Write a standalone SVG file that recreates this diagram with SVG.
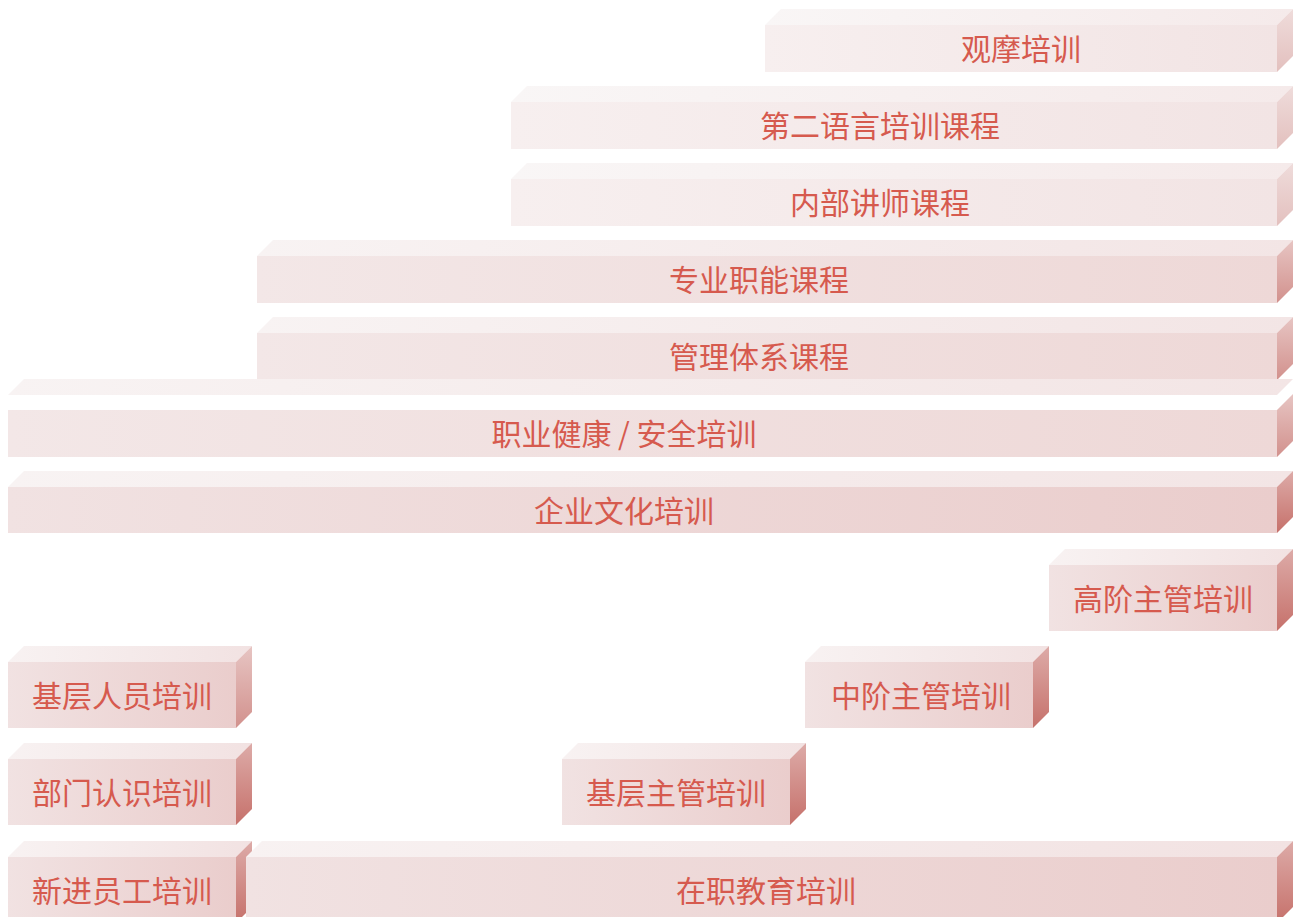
<svg xmlns="http://www.w3.org/2000/svg" width="1294" height="917" viewBox="0 0 1294 917">
<defs>
<linearGradient id="frA" x1="0" y1="0" x2="1" y2="0"><stop offset="0" stop-color="#f7efef"/><stop offset="1" stop-color="#f2e4e4"/></linearGradient>
<linearGradient id="topA" x1="0" y1="0" x2="1" y2="0"><stop offset="0" stop-color="#f9f6f6"/><stop offset="1" stop-color="#f5eaea"/></linearGradient>
<linearGradient id="sdA" x1="0" y1="0" x2="0" y2="1"><stop offset="0" stop-color="#efdcdb"/><stop offset="1" stop-color="#e3c0be"/></linearGradient>
<linearGradient id="frB" x1="0" y1="0" x2="1" y2="0"><stop offset="0" stop-color="#f3e7e7"/><stop offset="1" stop-color="#eed8d7"/></linearGradient>
<linearGradient id="topB" x1="0" y1="0" x2="1" y2="0"><stop offset="0" stop-color="#f8f3f3"/><stop offset="1" stop-color="#f3e5e5"/></linearGradient>
<linearGradient id="sdB" x1="0" y1="0" x2="0" y2="1"><stop offset="0" stop-color="#e7c5c3"/><stop offset="1" stop-color="#d2918d"/></linearGradient>
<linearGradient id="frC" x1="0" y1="0" x2="1" y2="0"><stop offset="0" stop-color="#f1e2e2"/><stop offset="1" stop-color="#eacdcc"/></linearGradient>
<linearGradient id="topC" x1="0" y1="0" x2="1" y2="0"><stop offset="0" stop-color="#f8f2f2"/><stop offset="1" stop-color="#f2e2e2"/></linearGradient>
<linearGradient id="sdC" x1="0" y1="0" x2="0" y2="1"><stop offset="0" stop-color="#ddaba8"/><stop offset="1" stop-color="#c6716b"/></linearGradient>
</defs>
<style>
.fA{fill:url(#frA)}.tA{fill:url(#topA)}.sA{fill:url(#sdA)}
.fB{fill:url(#frB)}.tB{fill:url(#topB)}.sB{fill:url(#sdB)}
.fC{fill:url(#frC)}.tC{fill:url(#topC)}.sC{fill:url(#sdC)}
text{font-family:"Noto Sans CJK SC","Noto Sans",sans-serif;font-size:30px;fill:#d65a4e;text-anchor:middle;dominant-baseline:central}
</style>
<g id="n1">
<polygon class="tA" points="765,25 781,9 1293,9 1277,25"/>
<rect class="fA" x="765" y="25" width="512" height="47"/>
<polygon class="sA" points="1277,25 1293,9 1293,56 1277,72"/>
<text x="1021" y="47">观摩培训</text>
</g>
<g id="n2">
<polygon class="tA" points="511,102 527,86 1293,86 1277,102"/>
<rect class="fA" x="511" y="102" width="766" height="47"/>
<polygon class="sA" points="1277,102 1293,86 1293,133 1277,149"/>
<text x="880" y="124">第二语言培训课程</text>
</g>
<g id="n3">
<polygon class="tA" points="511,179 527,163 1293,163 1277,179"/>
<rect class="fA" x="511" y="179" width="766" height="47"/>
<polygon class="sA" points="1277,179 1293,163 1293,210 1277,226"/>
<text x="880" y="201">内部讲师课程</text>
</g>
<g id="n4">
<polygon class="tB" points="257,256 273,240 1293,240 1277,256"/>
<rect class="fB" x="257" y="256" width="1020" height="47"/>
<polygon class="sB" points="1277,256 1293,240 1293,287 1277,303"/>
<text x="759" y="278">专业职能课程</text>
</g>
<g id="n5">
<polygon class="tB" points="257,333 273,317 1293,317 1277,333"/>
<rect class="fB" x="257" y="333" width="1020" height="47"/>
<polygon class="sB" points="1277,333 1293,317 1293,364 1277,380"/>
<text x="759" y="355">管理体系课程</text>
</g>
<g id="n6">
<polygon class="tB" points="8,395 24,379 1293,379 1277,395"/>
<rect class="fB" x="8" y="410" width="1269" height="47"/>
<polygon class="sB" points="1277,410 1293,394 1293,441 1277,457"/>
<text x="624" y="432">职业健康 / 安全培训</text>
</g>
<g id="n7">
<polygon class="tB" points="8,487 24,471 1293,471 1277,487"/>
<rect class="fC" x="8" y="487" width="1269" height="46"/>
<polygon class="sC" points="1277,487 1293,471 1293,517 1277,533"/>
<text x="624" y="509">企业文化培训</text>
</g>
<g id="n8">
<polygon class="tC" points="1049,565 1065,549 1293,549 1277,565"/>
<rect class="fC" x="1049" y="565" width="228" height="66"/>
<polygon class="sC" points="1277,565 1293,549 1293,615 1277,631"/>
<text x="1163" y="597">高阶主管培训</text>
</g>
<g id="n9">
<polygon class="tC" points="8,662 24,646 252,646 236,662"/>
<rect class="fC" x="8" y="662" width="228" height="66"/>
<polygon class="sB" points="236,662 252,646 252,712 236,728"/>
<text x="122" y="694">基层人员培训</text>
</g>
<g id="n10">
<polygon class="tC" points="805,662 821,646 1049,646 1033,662"/>
<rect class="fC" x="805" y="662" width="228" height="66"/>
<polygon class="sC" points="1033,662 1049,646 1049,712 1033,728"/>
<text x="921" y="694">中阶主管培训</text>
</g>
<g id="n11">
<polygon class="tC" points="8,759 24,743 252,743 236,759"/>
<rect class="fC" x="8" y="759" width="228" height="66"/>
<polygon class="sC" points="236,759 252,743 252,809 236,825"/>
<text x="122" y="791">部门认识培训</text>
</g>
<g id="n12">
<polygon class="tC" points="562,759 578,743 806,743 790,759"/>
<rect class="fC" x="562" y="759" width="228" height="66"/>
<polygon class="sC" points="790,759 806,743 806,809 790,825"/>
<text x="676" y="791">基层主管培训</text>
</g>
<g id="n13">
<polygon class="tC" points="8,857 24,841 252,841 236,857"/>
<rect class="fC" x="8" y="857" width="228" height="66"/>
<polygon class="sC" points="236,857 252,841 252,907 236,923"/>
<text x="122" y="889">新进员工培训</text>
</g>
<g id="n14">
<polygon class="tC" points="246,857 262,841 1293,841 1277,857"/>
<rect class="fC" x="246" y="857" width="1031" height="66"/>
<polygon class="sC" points="1277,857 1293,841 1293,907 1277,923"/>
<text x="766" y="889">在职教育培训</text>
</g>
<g id="connectors"/>
</svg>
